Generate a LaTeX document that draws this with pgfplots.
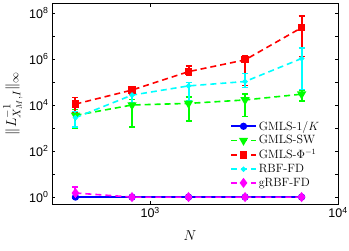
\documentclass[border=0pt]{standalone}
\usepackage{fontspec}
\usepackage{pgfplots}
\pgfplotsset{compat=1.18}
\newfontfamily\tickfont{Liberation Sans}
\definecolor{mblue}{rgb}{0,0,1}
\definecolor{mgreen}{rgb}{0,1,0}
\definecolor{mred}{rgb}{1,0,0}
\definecolor{mcyan}{rgb}{0,1,1}
\definecolor{mmag}{rgb}{1,0,1}
\pgfplotsset{
  every error bar/.style={line width=2bp, solid},
  myerr/.style={error bars/.cd, y dir=both, y explicit,
  error bar style={line width=2bp, solid},
  error mark options={rotate=90, mark size=3bp, line width=1.5bp, solid}}}
\begin{document}
\begin{tikzpicture}
\useasboundingbox (-52bp,-47bp) rectangle (297bp,204bp);
\begin{axis}[
  scale only axis,
  width=286bp, height=201bp,
  xmode=log, ymode=log,
  log basis x=10, log basis y=10,
  xmin=300, xmax=1e4,
  ymin=0.5, ymax=2.7e8,
  xtick={1000,10000},
  xticklabels={10\textsuperscript{3},10\textsuperscript{4}},
  ytick={1,10,100,1000,1e4,1e5,1e6,1e7,1e8},
  yticklabels={10\textsuperscript{0},,10\textsuperscript{2},,10\textsuperscript{4},,10\textsuperscript{6},,10\textsuperscript{8}},
  ticklabel style={font=\tickfont\fontsize{12.5bp}{14bp}\selectfont},
  major tick length=3.5bp, minor tick length=2bp,
  every tick/.style={black, line width=0.4pt},
  axis line style={line width=0.5pt},
  tick align=inside,
  xlabel={$N$},
  ylabel={$\|L_{X_M,I}^{-1}\|_\infty$},
  label style={font=\fontsize{15bp}{17bp}\selectfont},
  xlabel style={yshift=-6bp, xshift=-5bp},
  legend style={at={(0.945,0.065)}, anchor=south east, draw=none, fill=white,
    font=\fontsize{12bp}{13bp}\selectfont, row sep=0bp,
    inner xsep=1bp, inner ysep=1bp},
  legend cell align=left,
  legend image code/.code={\draw[mark repeat=2,mark phase=2] plot coordinates {(0bp,0bp) (12.5bp,0bp) (25bp,0bp)};},
  every axis plot/.append style={line width=1.6bp},
]
% GMLS-1/K
\addplot[mblue, solid, mark=*, mark size=2.8bp, myerr] coordinates {
  (400,1.0) +- (0,0.08)
  (800,1.0) +- (0,0)
  (1600,1.0) +- (0,0)
  (3200,1.0) +- (0,0)
  (6400,1.0) +- (0,0)
};
\addlegendentry{GMLS-$1/K$}
% GMLS-SW
\addplot[mgreen, dash pattern=on 6bp off 4bp, mark=triangle*, mark options={rotate=180, solid}, mark size=3.8bp, myerr] coordinates {
  (400,3548)  += (0,2762)  -= (0,2593)
  (800,10000) += (0,7783)  -= (0,8878)
  (1600,11749) += (0,10129) -= (0,9754)
  (3200,16596) += (0,12916) -= (0,13434)
  (6400,29512) += (0,12175) -= (0,14721)
};
\addlegendentry{GMLS-SW}
% GMLS-Phi^-1
\addplot[mred, dash pattern=on 6bp off 4bp, mark=square*, mark options={solid}, mark size=2.8bp, myerr] coordinates {
  (400,10965)  += (0,9928)   -= (0,6498)
  (800,44668)  += (0,14216)  -= (0,16484)
  (1600,281838) += (0,219349) -= (0,91292)
  (3200,912011) += (0,436952) -= (0,841216)
  (6400,22900000) += (0,51200000) -= (0,21640000)
};
\addlegendentry{GMLS-$\Phi^{-1}$}
% RBF-FD
\addplot[mcyan, dash pattern=on 6bp off 4bp, mark=*, mark options={solid}, mark size=1.8bp, myerr] coordinates {
  (400,2818)   += (0,2430)   -= (0,1696)
  (800,26915)  += (0,17753)  -= (0,14326)
  (1600,67608) += (0,27891)  -= (0,51759)
  (3200,104713) += (0,124374) -= (0,48479)
  (6400,1047000) += (0,1904000) -= (0,999137)
};
\addlegendentry{RBF-FD}
% gRBF-FD
\addplot[mmag, dash pattern=on 6bp off 4bp, mark=diamond*, mark options={solid}, mark size=3.8bp, myerr] coordinates {
  (400,1.5) += (0,1.2) -= (0,0.5)
  (800,1.0) +- (0,0)
  (1600,1.0) +- (0,0)
  (3200,1.0) +- (0,0)
  (6400,1.0) +- (0,0)
};
\addlegendentry{gRBF-FD}
\end{axis}
\end{tikzpicture}
\end{document}
